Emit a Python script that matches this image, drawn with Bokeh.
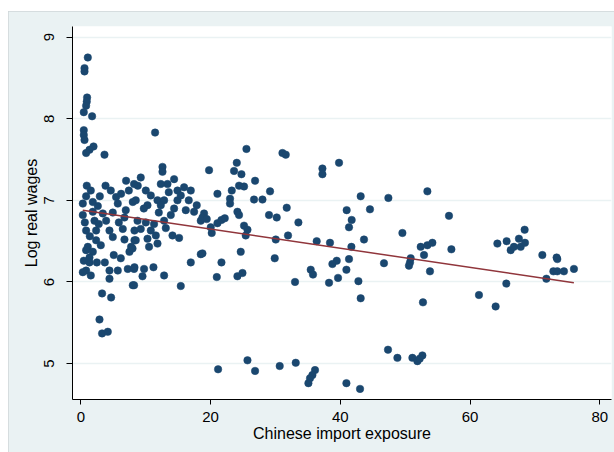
from bokeh.plotting import figure
from bokeh.models import Range1d, FixedTicker, Spacer
from bokeh.layouts import column, row
from bokeh.embed import file_html
from bokeh.resources import INLINE

# Chinese import exposure (x) and log real wages (y)
exposure = [
    # top-left column
    1.08, 0.57, 0.57, 0.97, 0.92, 0.82, 0.46, 1.74, 0.46, 0.46, 0.57, 1.96, 1.34, 0.82, 3.65, 11.45,
    # left cluster
    3.81, 6.98, 8.78, 0.82, 1.85, 0.31, 2.62, 5.44, 5.70, 8.01, 6.21, 1.85, 3.39, 3.90, 2.11, 6.73,
    0.82, 2.36, 4.42, 6.47, 8.27, 4.93, 6.73, 8.27, 2.36, 1.08, 0.82, 1.85, 1.34, 7.75, 7.50, 1.34,
    0.82, 0.31, 4.42, 5.70, 7.24, 8.27, 4.42, 8.01, 3.28, 4.67, 2.88, 3.28, 4.16,
    0.31, 0.62, 1.39, 2.77, 3.08, 2.47, 1.54, 0.46, 0.92, 1.54, 2.93, 4.62, 4.93, 5.86, 3.70, 5.08, 6.16,
    # middle-left cluster
    12.59, 12.59, 9.24, 14.38, 8.21, 13.36, 12.33, 10.02, 14.90, 10.79, 15.92, 16.95, 8.47, 11.82,
    12.84, 14.90, 10.28, 12.33, 14.38, 16.18, 17.46, 19.00, 8.74, 10.02, 11.29, 12.84, 20.03, 9.24,
    10.79, 11.56, 14.13, 15.15, 10.28, 8.47, 11.82, 10.52, 7.97, 16.95, 18.49, 8.21, 9.75, 11.20,
    9.51, 12.84, 8.21, 15.41,
    13.56, 15.41, 13.87, 16.64, 17.87, 18.49, 13.10, 12.02, 9.71, 7.40, 6.93,
    # middle
    25.53, 31.08, 31.59, 19.77, 24.04, 23.62, 24.76, 37.24, 37.24, 39.80, 26.86, 21.06, 23.27, 23.00,
    23.00, 26.70, 28.00, 29.17, 31.74, 29.01, 30.20, 33.54, 24.14, 24.39, 25.16, 25.69, 25.42, 18.75,
    19.41, 21.06, 21.68, 22.19, 20.18, 30.05, 31.94, 40.98, 41.75, 41.34, 43.14, 44.57, 47.41,
    43.65, 41.71, 36.36, 38.41, 18.75, 24.65, 21.68, 29.89, 46.73, 41.34, 39.45, 38.78, 40.94,
    39.65, 35.44, 35.79, 20.96, 24.14, 24.92, 33.02, 38.26, 42.79, 43.14, 24.39, 25.16,
    # low group
    47.35, 48.80, 25.69, 21.16, 26.86, 30.66, 33.13, 36.10, 35.70, 35.33, 35.08, 40.94, 43.04,
    # right
    53.42, 56.75, 49.57, 50.74, 50.58, 50.85, 52.39, 53.42, 54.19, 52.90, 53.82, 57.12, 52.74,
    61.37, 63.94, 65.59, 64.21, 65.64, 66.26, 66.76, 67.53, 67.80, 68.41, 68.46, 71.14, 73.34,
    73.45, 71.76, 72.84, 73.45, 74.47, 76.01, 51.11, 51.88, 52.65, 52.23,
]
log_wage = [
    8.75, 8.62, 8.58, 8.26, 8.21, 8.16, 8.08, 8.03, 7.86, 7.80, 7.74, 7.66, 7.62, 7.58, 7.56, 7.83,
    7.18, 7.24, 7.18, 7.05, 6.98, 6.96, 6.93, 7.04, 6.96, 6.98, 7.08, 6.86, 6.84, 6.75, 6.75, 6.79,
    6.63, 6.63, 6.63, 6.65, 6.63, 6.55, 6.52, 6.51, 6.51, 6.43, 6.39, 6.37, 6.30, 6.43, 6.37, 6.24,
    6.14, 6.12, 6.14, 6.14, 6.16, 6.18, 6.04, 5.96, 5.86, 5.81, 5.54, 5.37, 5.39,
    6.82, 6.73, 6.56, 6.71, 6.45, 6.24, 6.08, 6.26, 7.18, 7.12, 7.05, 7.12, 6.85, 6.73, 6.24, 6.33, 6.29,
    7.41, 7.35, 7.28, 7.26, 7.20, 7.20, 7.20, 7.12, 7.12, 7.06, 7.16, 7.12, 7.00, 7.00,
    7.00, 7.00, 6.94, 6.94, 6.90, 6.88, 6.86, 6.84, 6.75, 6.73, 6.71, 6.75, 6.67, 6.65,
    6.63, 6.57, 6.57, 6.54, 6.53, 6.51, 6.47, 6.43, 6.41, 6.24, 6.34, 6.16, 6.16, 6.18,
    6.07, 6.08, 5.96, 5.95,
    7.10, 7.06, 6.82, 7.00, 6.94, 6.75, 6.66, 6.85, 6.90, 7.12, 6.88,
    7.63, 7.58, 7.56, 7.37, 7.46, 7.36, 7.32, 7.39, 7.32, 7.46, 7.24, 7.08, 7.12, 7.02,
    6.96, 7.01, 7.01, 7.11, 6.91, 6.82, 6.79, 6.73, 6.86, 6.82, 6.69, 6.64, 6.57, 6.79,
    6.77, 6.72, 6.76, 6.78, 6.60, 6.52, 6.57, 6.88, 6.76, 6.67, 7.05, 6.89, 7.03,
    6.52, 6.43, 6.50, 6.48, 6.35, 6.37, 6.24, 6.29, 6.23, 6.28, 6.26, 6.22, 6.15,
    6.05, 6.15, 6.09, 6.06, 6.07, 6.11, 6.00, 5.99, 6.01, 5.80, 7.18, 7.17,
    5.17, 5.07, 5.04, 4.93, 4.91, 4.97, 5.01, 4.92, 4.86, 4.82, 4.76, 4.76, 4.69,
    7.11, 6.81, 6.60, 6.24, 6.20, 6.29, 6.43, 6.45, 6.48, 6.33, 6.13, 6.40, 5.75,
    5.84, 5.70, 5.98, 6.47, 6.50, 6.39, 6.43, 6.53, 6.43, 6.64, 6.48, 6.33, 6.30,
    6.28, 6.04, 6.13, 6.13, 6.13, 6.16, 5.07, 5.03, 5.10, 5.06,
]

# fitted line endpoints (linear fit as drawn in the reference)
fit_x = [0.3, 76.0]
fit_y = [6.88, 5.99]

x_ticks = [0, 20, 40, 60, 80]
y_ticks = [5, 6, 7, 8, 9]

NAVY = "#1a476f"
MAROON = "#90353b"
BG = "#eaf2f3"

p = figure(width=606, height=441, output_backend="svg", toolbar_location=None,
           x_range=Range1d(-1.28, 81.8), y_range=Range1d(4.56, 9.13),
           min_border_left=64, min_border_right=3, min_border_top=15, min_border_bottom=53)

p.background_fill_color = "white"
p.border_fill_color = BG
p.outline_line_color = None
p.styles = {"outline": "1px solid #cfd6d8", "outline-offset": "-1px"}

p.xgrid.grid_line_color = None
p.ygrid.grid_line_color = BG
p.ygrid.grid_line_width = 1.5

p.xaxis.ticker = FixedTicker(ticks=x_ticks)
p.yaxis.ticker = FixedTicker(ticks=y_ticks)
p.xaxis.axis_label = "Chinese import exposure"
p.yaxis.axis_label = "Log real wages"
p.yaxis.major_label_orientation = "vertical"

for ax in (p.xaxis, p.yaxis):
    ax.axis_line_color = "black"
    ax.major_tick_line_color = "black"
    ax.minor_tick_line_color = None
    ax.major_tick_in = 0
    ax.major_label_text_font = "Liberation Sans"
    ax.major_label_text_font_size = "15px"
    ax.major_label_text_color = "black"
    ax.axis_label_text_font = "Liberation Sans"
    ax.axis_label_text_font_size = "16px"
    ax.axis_label_text_font_style = "normal"
    ax.axis_label_text_color = "black"

p.xaxis.major_tick_out = 5
p.yaxis.major_tick_out = 6
p.xaxis.major_label_standoff = 7
p.xaxis.axis_label_standoff = 0
p.yaxis.major_label_standoff = 12
p.yaxis.axis_label_standoff = 2

p.scatter(exposure, log_wage, size=7.5, fill_color=NAVY, line_color=NAVY, line_width=0.5)
p.line(fit_x, fit_y, line_color=MAROON, line_width=1.5)

layout = column(Spacer(width=614, height=11), row(Spacer(width=8, height=441), p))
open("out.html", "w").write(file_html(layout, INLINE))
